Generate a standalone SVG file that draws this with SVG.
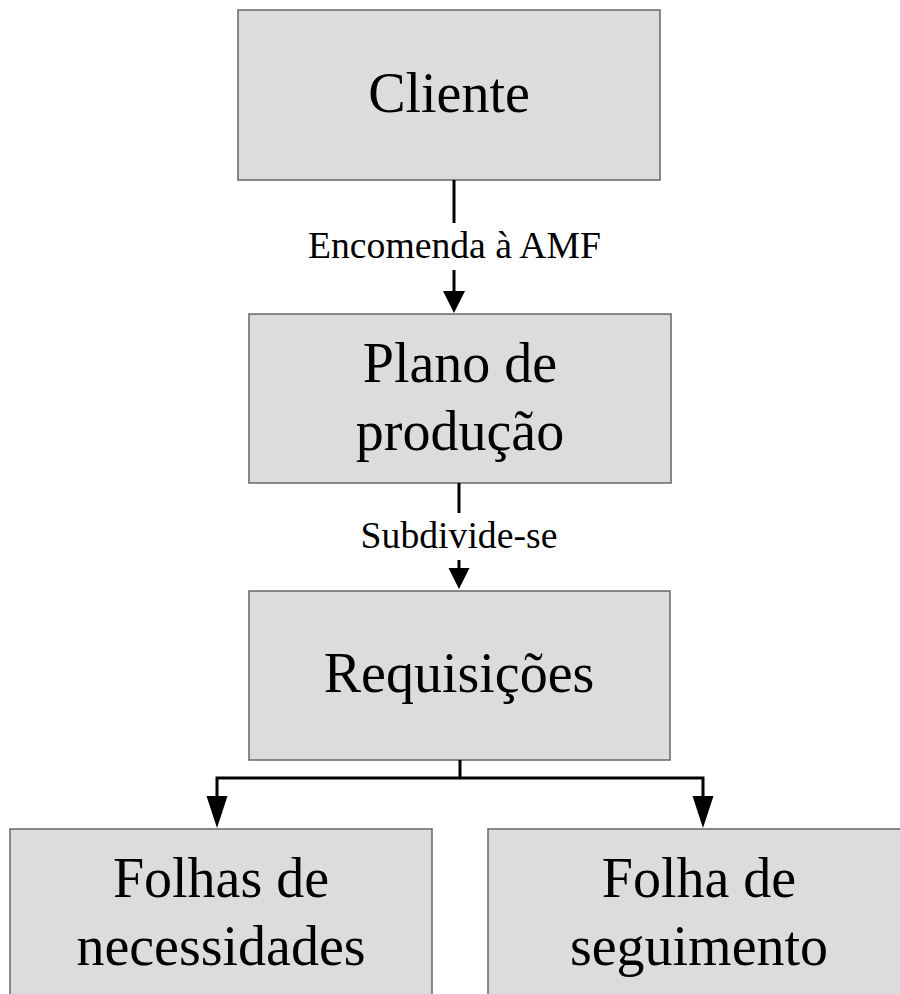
<svg xmlns="http://www.w3.org/2000/svg" width="900" height="994" viewBox="0 0 900 994">
<style>
.box{fill:#dcdcdc;stroke:#666;stroke-width:1.5}
.t{font-family:"Liberation Serif","Times New Roman",serif;font-size:56px;fill:#000;text-anchor:middle}
.l{font-family:"Liberation Serif","Times New Roman",serif;font-size:37.7px;fill:#000;text-anchor:middle}
.c{stroke:#000;stroke-width:3;fill:none}
.h{fill:#000;stroke:none}
</style>
<rect width="900" height="994" fill="#fff"/>
<g id="cliente"><rect class="box" x="238" y="10" width="422" height="170"/><text class="t" x="449" y="112">Cliente</text></g>
<g id="plano"><rect class="box" x="249" y="314" width="422" height="169"/><text class="t" x="460" y="382">Plano de</text><text class="t" x="460" y="450">produção</text></g>
<g id="requisicoes"><rect class="box" x="249" y="591" width="421" height="169"/><text class="t" x="459" y="692">Requisições</text></g>
<g id="folhas"><rect class="box" x="10" y="829" width="422" height="180"/><text class="t" x="221" y="897">Folhas de</text><text class="t" x="221" y="965">necessidades</text></g>
<g id="seguimento"><rect class="box" x="488" y="829" width="422" height="180"/><text class="t" x="699" y="897">Folha de</text><text class="t" x="699" y="965">seguimento</text></g>
<g id="connectors">
<path class="c" d="M454 180V223M454 270V294"/>
<polygon class="h" points="443,291 465,291 454,313"/>
<text class="l" x="454.5" y="258">Encomenda à AMF</text>
<path class="c" d="M459 483V513M459 560V571"/>
<polygon class="h" points="448.5,568 469.5,568 459,589"/>
<text class="l" x="459" y="548">Subdivide-se</text>
<path class="c" d="M460 760V778M217 798V778H703V798"/>
<polygon class="h" points="206.5,796 227.5,796 217,828"/>
<polygon class="h" points="692.5,796 713.5,796 703,828"/>
</g>
</svg>
